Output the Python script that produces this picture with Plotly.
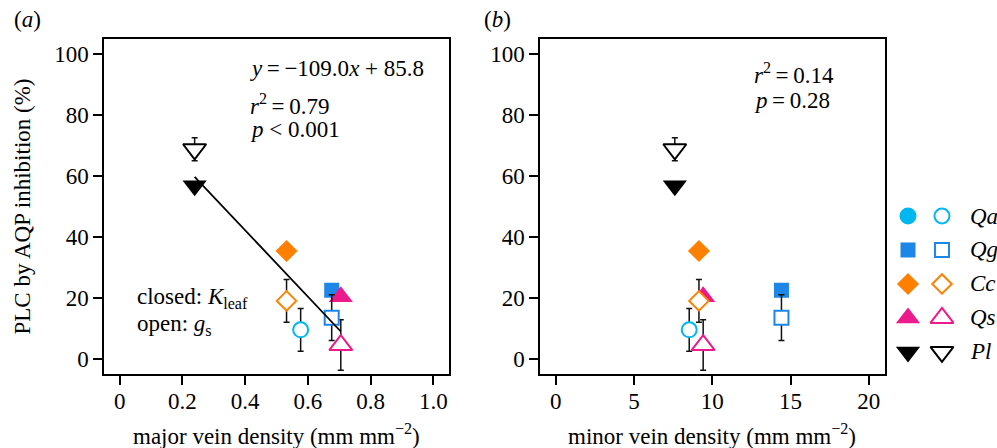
import plotly.graph_objects as go

# ---------------- data ----------------
species = ["Qa", "Qg", "Cc", "Qs", "Pl"]
colors = ["#00B7F1", "#1E86E6", "#FF8000", "#EC1A8A", "#000000"]
sym_filled = ["circle", "square", "diamond", "triangle-up", "triangle-down"]

major_vein = [0.577, 0.676, 0.532, 0.705, 0.239]   # mm mm-2
minor_vein = [8.53, 14.42, 9.15, 9.42, 7.61]      # mm mm-2

plc_kleaf = [None, 22.5, 35.4, 20.4, 56.8]          # closed symbols (%)
plc_gs = [9.5, 13.5, 19.0, 4.5, 68.8]               # open symbols (%)
plc_gs_err = [7.0, 7.5, 7.0, 8.3, 3.8]

slope, intercept = -109.0, 85.8

xticks_a = [0, 0.2, 0.4, 0.6, 0.8, 1.0]
xticklabels_a = ["0", "0.2", "0.4", "0.6", "0.8", "1.0"]
xticks_b = [0, 5, 10, 15, 20]
yticks = [0, 20, 40, 60, 80, 100]

FONT = "Liberation Serif"
FS = 23
W, H = 997, 448

size_filled = [17, 15, 17, 21, 21]
size_open = [15, 14, 15, 20, 20]

fig = go.Figure()

def px_x(p):
    return p / W

def px_y(p):
    return 1 - p / H

for xa, ya, xs in [("x", "y", major_vein), ("x2", "y2", minor_vein)]:
    # closed symbols: K_leaf
    fig.add_trace(go.Scatter(
        x=xs, y=plc_kleaf, xaxis=xa, yaxis=ya, mode="markers",
        marker=dict(symbol=sym_filled, color=colors, opacity=1,
                    size=size_filled, line=dict(width=0)),
        showlegend=False, cliponaxis=False))
    # open symbols: g_s
    fig.add_trace(go.Scatter(
        x=xs, y=plc_gs, xaxis=xa, yaxis=ya, mode="markers",
        marker=dict(symbol=sym_filled, color="white", opacity=1,
                    size=size_open, line=dict(width=2, color=colors)),
        error_y=dict(type="data", array=plc_gs_err, color="#111111", thickness=1.5, width=3),
        showlegend=False, cliponaxis=False))

# regression line for panel (a) over the K_leaf x range
kx = [x for x, y in zip(major_vein, plc_kleaf) if y is not None]
x0, x1 = min(kx), max(kx)
fig.add_trace(go.Scatter(
    x=[x0, x1], y=[slope * x0 + intercept, slope * x1 + intercept],
    xaxis="x", yaxis="y", mode="lines", line=dict(color="black", width=1.8),
    showlegend=False))

# legend drawn on its own small axis
rows = list(range(len(species)))
fig.add_trace(go.Scatter(
    x=[0] * len(species), y=rows, xaxis="x3", yaxis="y3", mode="markers",
    marker=dict(symbol=sym_filled, color=colors, opacity=1, size=size_filled, line=dict(width=0)),
    showlegend=False, hoverinfo="skip"))
fig.add_trace(go.Scatter(
    x=[1] * len(species), y=rows, xaxis="x3", yaxis="y3", mode="markers",
    marker=dict(symbol=sym_filled, color="white", opacity=1,
                size=size_open, line=dict(width=2, color=colors)),
    showlegend=False, hoverinfo="skip"))

ann = []
for i, sp in enumerate(species):
    ann.append(dict(x=1.76, y=i, xref="x3", yref="y3", text=f"<i>{sp}</i>",
                    showarrow=False, xanchor="left", yanchor="middle",
                    font=dict(family=FONT, size=FS, color="black")))

def txt(text, xpx, ypx, anchor="left", size=FS, angle=0):
    ann.append(dict(x=px_x(xpx), y=px_y(ypx), xref="paper", yref="paper", text=text,
                    showarrow=False, xanchor=anchor, yanchor="middle", textangle=angle,
                    font=dict(family=FONT, size=size, color="black")))

txt("(<i>a</i>)", 12, 19)
txt("(<i>b</i>)", 482, 19)
txt("<i>y</i>\u2009=\u2009\u2212109.0<i>x</i> + 85.8", 248, 68.5)
txt("<i>r</i><sup>2</sup>\u2009=\u20090.79", 248, 104)
txt("<i>p</i> < 0.001", 248, 129.5)
txt("<i>r</i><sup>2</sup>\u2009=\u20090.14", 752, 73)
txt("<i>p</i>\u2009=\u20090.28", 752, 100)
txt("closed: <i>K</i><sub>leaf</sub>", 135, 298)
txt("open: <i>g</i><sub>s</sub>", 135, 325)
txt("major vein density (mm mm<sup>\u22122</sup>)", 276.5, 434, anchor="center")
txt("minor vein density (mm mm<sup>\u22122</sup>)", 712, 434, anchor="center")
txt("PLC by AQP inhibition (%)", 22, 206.5, anchor="center", angle=-90)

ydom = [1 - 374 / H, 1 - 39 / H]
axis_common = dict(showline=True, mirror=True, linecolor="black", linewidth=1.5,
                   ticks="outside", ticklen=9, tickwidth=1.5, tickcolor="black",
                   showgrid=False, zeroline=False)
tf = dict(family=FONT, size=FS, color="black")

fig.update_layout(
    width=W, height=H, margin=dict(l=0, r=0, t=0, b=0),
    plot_bgcolor="white", paper_bgcolor="white",
    xaxis=dict(domain=[104 / W, 449 / W], range=[-0.05, 1.05], tickvals=xticks_a,
               ticktext=xticklabels_a, anchor="y", tickfont=tf, ticklabelstandoff=-3,
               **axis_common),
    yaxis=dict(domain=ydom, range=[-5, 105], tickvals=yticks, anchor="x", tickfont=tf,
               **axis_common),
    xaxis2=dict(domain=[540 / W, 884.5 / W], range=[-1, 21], tickvals=xticks_b,
                anchor="y2", tickfont=tf, ticklabelstandoff=-3, **axis_common),
    yaxis2=dict(domain=ydom, range=[-5, 105], tickvals=yticks, anchor="x2", tickfont=tf,
                **axis_common),
    xaxis3=dict(domain=[890 / W, 1.0], range=[-0.53, 2.62], visible=False, anchor="y3"),
    yaxis3=dict(domain=ydom, range=[4.65, -5.21], visible=False, anchor="x3"),
    annotations=ann,
    font=dict(family=FONT, size=FS, color="black"),
)

fig.write_html("out.html", config={"displayModeBar": False},
               post_script="document.body.style.margin='0';document.body.style.overflow='hidden';")
